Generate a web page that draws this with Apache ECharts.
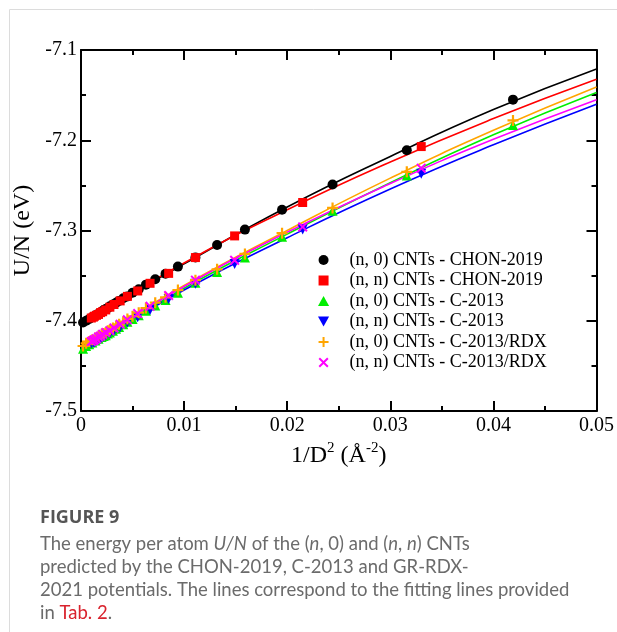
<!DOCTYPE html>
<html lang="en">
<head>
<meta charset="UTF-8">
<title>Figure 9</title>
<style>
    html, body { margin: 0; padding: 0; background: #fff; }
    #main { width: 617px; height: 632px; }
</style>
<script src="https://cdn.jsdelivr.net/npm/echarts@6.0.0/dist/echarts.min.js"></script>
</head>
<body>
<div id="main"></div>
<script>
    // x positions (1/D^2) of the (n, 0) and (n, n) tubes
    const xN0 = [0.0419, 0.0316, 0.0244, 0.0195, 0.0159, 0.0132, 0.0111, 0.0094, 0.0082, 0.0072, 0.0063, 0.0056, 0.0050, 0.0045, 0.0041, 0.0037, 0.0034, 0.0031, 0.0028, 0.0026, 0.0024, 0.0022, 0.0020, 0.0017, 0.0014, 0.0011, 0.0008, 0.0005, 0.0002];
    const xNN = [0.0330, 0.0215, 0.0149, 0.0111, 0.0085, 0.0067, 0.0055, 0.0045, 0.0038, 0.0032, 0.0028, 0.0024, 0.0021, 0.0019, 0.0017, 0.0015, 0.0013, 0.0012, 0.0010];

    // U/N values (eV)
    const n0Chon = [-7.155, -7.211, -7.249, -7.277, -7.299, -7.316, -7.330, -7.340, -7.348, -7.354, -7.360, -7.365, -7.369, -7.373, -7.375, -7.378, -7.380, -7.382, -7.384, -7.386, -7.387, -7.388, -7.390, -7.392, -7.394, -7.396, -7.398, -7.400, -7.402];
    const nnChon = [-7.207, -7.269, -7.306, -7.330, -7.3475, -7.3585, -7.367, -7.373, -7.378, -7.382, -7.385, -7.388, -7.390, -7.391, -7.393, -7.394, -7.395, -7.396, -7.397];
    const n0C2013 = [-7.183, -7.239, -7.278, -7.307, -7.330, -7.346, -7.358, -7.369, -7.377, -7.383, -7.389, -7.394, -7.398, -7.401, -7.404, -7.407, -7.409, -7.411, -7.413, -7.414, -7.416, -7.417, -7.418, -7.420, -7.422, -7.424, -7.426, -7.428, -7.431];
    const nnC2013 = [-7.237, -7.299, -7.337, -7.359, -7.376, -7.388, -7.396, -7.402, -7.407, -7.411, -7.414, -7.416, -7.418, -7.420, -7.421, -7.422, -7.424, -7.424, -7.425];
    const n0Rdx = [-7.178, -7.235, -7.275, -7.303, -7.326, -7.343, -7.355, -7.366, -7.374, -7.380, -7.386, -7.391, -7.395, -7.398, -7.401, -7.404, -7.406, -7.408, -7.410, -7.411, -7.413, -7.414, -7.415, -7.417, -7.419, -7.421, -7.423, -7.425, -7.428];
    const nnRdx = [-7.231, -7.296, -7.333, -7.355, -7.372, -7.384, -7.392, -7.399, -7.404, -7.408, -7.411, -7.413, -7.415, -7.417, -7.418, -7.420, -7.421, -7.422, -7.423];

    // fitting lines
    const fitX = [0, 0.01, 0.02, 0.03, 0.04, 0.05];
    const fitN0Chon = [-7.403, -7.337, -7.274, -7.218, -7.166, -7.121];
    const fitNNChon = [-7.404, -7.336, -7.277, -7.224, -7.176, -7.1325];
    const fitN0C2013 = [-7.432, -7.364, -7.304, -7.247, -7.194, -7.147];
    const fitNNC2013 = [-7.432, -7.366, -7.308, -7.254, -7.205, -7.160];
    const fitN0Rdx = [-7.429, -7.361, -7.300, -7.242, -7.189, -7.141];
    const fitNNRdx = [-7.430, -7.362, -7.302, -7.248, -7.199, -7.155];

    const names = [
        '(n, 0) CNTs - CHON-2019',
        '(n, n) CNTs - CHON-2019',
        '(n, 0) CNTs - C-2013',
        '(n, n) CNTs - C-2013',
        '(n, 0) CNTs - C-2013/RDX',
        '(n, n) CNTs - C-2013/RDX'
    ];
    const colors = ['#000000', '#ff0000', '#00ee00', '#0000ff', '#ffa500', '#ff00ff'];

    const zip = (xs, ys) => xs.map((x, i) => [x, ys[i]]);

    const serif = '"Liberation Serif", "Times New Roman", serif';
    const square = 'path://M0,0H10V10H0Z';
    const upTri = 'path://M5,0L10,9L0,9Z';
    const downTri = 'path://M0,0L10,0L5,9Z';
    const plus = 'path://M4,0H6V4H10V6H6V10H4V6H0V4H4Z';
    const cross = 'path://M1.4,0L5,3.6L8.6,0L10,1.4L6.4,5L10,8.6L8.6,10L5,6.4L1.4,10L0,8.6L3.6,5L0,1.4Z';

    const pointSets = [
        { x: xN0, y: n0Chon, symbol: 'circle', size: 10 },
        { x: xNN, y: nnChon, symbol: square, size: 9 },
        { x: xN0, y: n0C2013, symbol: upTri, size: 10 },
        { x: xNN, y: nnC2013, symbol: downTri, size: 10 },
        { x: xN0, y: n0Rdx, symbol: plus, size: 11 },
        { x: xNN, y: nnRdx, symbol: cross, size: 10 }
    ];
    const fits = [fitN0Chon, fitNNChon, fitN0C2013, fitNNC2013, fitN0Rdx, fitNNRdx];

    let series = [];
    fits.forEach((f, i) => {
        series.push({
            type: 'line',
            data: zip(fitX, f),
            smooth: true,
            showSymbol: false,
            silent: true,
            lineStyle: { color: colors[i], width: 1.6 },
            z: 2
        });
    });
    pointSets.forEach((p, i) => {
        series.push({
            name: names[i],
            type: 'scatter',
            data: zip(p.x, p.y),
            symbol: p.symbol,
            symbolSize: p.size,
            itemStyle: { color: colors[i], opacity: 1 },
            z: 3
        });
    });

    const tickStyle = { color: '#000', width: 2 };
    const sans = 'Lato, "Open Sans", sans-serif';
    const grey = '#6b6b6b';

    let myChart = echarts.init(document.getElementById('main'));
    let option = {
        animation: false,
        grid: { left: 81, right: 20, top: 50, bottom: 221 },
        legend: {
            orient: 'vertical',
            left: 313,
            top: 246,
            itemWidth: 32,
            itemHeight: 10,
            itemGap: 2.5,
            textStyle: { fontFamily: serif, fontSize: 18, lineHeight: 18, color: '#000', padding: [0, 0, 0, 5] },
            data: names
        },
        xAxis: [
            {
                type: 'value', min: 0, max: 0.05, interval: 0.01,
                name: '1/D{sup|2} ({b|Å}{sup|-2})',
                nameLocation: 'middle', nameGap: 29,
                nameTextStyle: {
                    fontFamily: serif, fontSize: 24, color: '#000', lineHeight: 30,
                    rich: {
                        sup: { fontFamily: serif, fontSize: 15, verticalAlign: 'top', lineHeight: 15 },
                        b: { fontFamily: serif, fontSize: 24, lineHeight: 30 }
                    }
                },
                axisLine: { lineStyle: tickStyle },
                axisTick: { inside: true, length: 10, lineStyle: tickStyle },
                minorTick: { show: true, splitNumber: 2, length: 5, lineStyle: tickStyle },
                splitLine: { show: false },
                axisLabel: {
                    fontFamily: serif, fontSize: 20, color: '#000', margin: 5,
                    showMinLabel: true, showMaxLabel: true,
                    formatter: v => (v === 0 ? '0' : v.toFixed(2))
                }
            },
            {
                type: 'value', min: 0, max: 0.05, interval: 0.01, position: 'top',
                axisLine: { onZero: false, lineStyle: tickStyle },
                axisTick: { inside: true, length: 10, lineStyle: tickStyle },
                minorTick: { show: true, splitNumber: 2, length: 5, lineStyle: tickStyle },
                splitLine: { show: false },
                axisLabel: { show: false }
            }
        ],
        yAxis: [
            {
                type: 'value', min: -7.5, max: -7.1, interval: 0.1,
                name: 'U/N (eV)',
                nameLocation: 'middle', nameGap: 35,
                nameTextStyle: { fontFamily: serif, fontSize: 24, color: '#000' },
                axisLine: { onZero: false, lineStyle: tickStyle },
                axisTick: { inside: true, length: 10, lineStyle: tickStyle },
                minorTick: { show: true, splitNumber: 2, length: 5, lineStyle: tickStyle },
                splitLine: { show: false },
                axisLabel: {
                    fontFamily: serif, fontSize: 20, color: '#000', margin: 4,
                    showMinLabel: true, showMaxLabel: true,
                    formatter: v => v.toFixed(1)
                }
            },
            {
                type: 'value', min: -7.5, max: -7.1, interval: 0.1, position: 'right',
                axisLine: { show: true, onZero: false, lineStyle: tickStyle },
                axisTick: { show: true, inside: true, length: 10, lineStyle: tickStyle },
                minorTick: { show: true, splitNumber: 2, length: 5, lineStyle: tickStyle },
                splitLine: { show: false },
                axisLabel: { show: false }
            }
        ],
        series: series,
        graphic: [
            {
                type: 'polyline', silent: true,
                shape: { points: [[9.5, 632], [9.5, 9.5], [617, 9.5]] },
                style: { stroke: '#dcdcdc', lineWidth: 1, fill: null }
            },
            {
                type: 'text', left: 40, top: 509,
                style: { text: 'FIGURE 9', fontFamily: '"Open Sans", Lato, sans-serif', fontSize: 18, fontWeight: 'bold', fill: '#555' }
            },
            {
                type: 'text', left: 40, top: 535,
                style: {
                    text: 'The energy per atom {i|U/N} of the ({i|n}, 0) and ({i|n}, {i|n}) CNTs',
                    fontFamily: sans, fontSize: 18.5, fill: grey,
                    rich: { i: { fontStyle: 'italic', fontSize: 18.5, fontFamily: sans, fill: grey } }
                }
            },
            {
                type: 'text', left: 40, top: 558,
                style: { text: 'predicted by the CHON-2019, C-2013 and GR-RDX-', fontFamily: sans, fontSize: 18.5, fill: grey }
            },
            {
                type: 'text', left: 40, top: 581,
                style: { text: '2021 potentials. The lines correspond to the fitting lines provided', fontFamily: sans, fontSize: 18.5, fill: grey }
            },
            {
                type: 'text', left: 40, top: 604,
                style: {
                    text: 'in {r|Tab. 2}.',
                    fontFamily: sans, fontSize: 18.5, fill: grey,
                    rich: { r: { fill: '#d9232e', fontSize: 18.5, fontFamily: sans } }
                }
            }
        ]
    };

    myChart.setOption(option);
</script>
</body>
</html>
